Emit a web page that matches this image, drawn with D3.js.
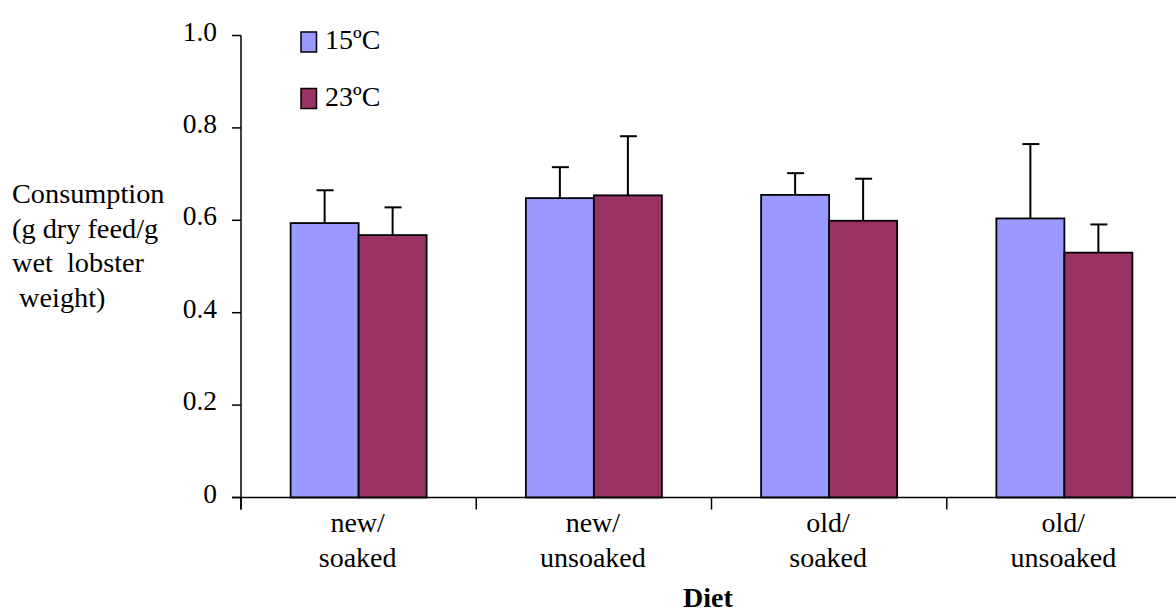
<!DOCTYPE html>
<html>
<head>
<meta charset="utf-8">
<script src="https://cdn.jsdelivr.net/npm/d3@7"></script>
<style>
  html, body { margin: 0; padding: 0; background: #fff; }
  svg { display: block; }
  svg text { font-family: "Liberation Serif", "Times New Roman", serif; }
</style>
</head>
<body>
<svg id="chart" width="1176" height="615"></svg>
<script>
// Diet groups (two-line category labels)
const categories = ["new/\nsoaked", "new/\nunsoaked", "old/\nsoaked", "old/\nunsoaked"];
const seriesNames = ["15ºC", "23ºC"];
const seriesColors = ["#9999FF", "#993366"];

// Mean consumption and upper error bar end for each temperature
const mean15 = [0.594, 0.648, 0.655, 0.604];
const mean23 = [0.568, 0.654, 0.599, 0.530];
const errTop15 = [0.665, 0.715, 0.702, 0.765];
const errTop23 = [0.628, 0.782, 0.690, 0.591];

const yTicks = [0, 0.2, 0.4, 0.6, 0.8, 1.0];
const yTickLabels = ["0", "0.2", "0.4", "0.6", "0.8", "1.0"];
const yTitleLines = ["Consumption", "(g dry feed/g", "wet  lobster", " weight)"];
const xTitle = "Diet";

const series = [
  { name: seriesNames[0], color: seriesColors[0], values: mean15, tops: errTop15 },
  { name: seriesNames[1], color: seriesColors[1], values: mean23, tops: errTop23 }
];

const svg = d3.select("#chart");
const plot = { left: 241, right: 1182, top: 35.5, bottom: 497.5 };

const x = d3.scaleBand()
  .domain(d3.range(categories.length))
  .range([plot.left, plot.right])
  .paddingInner(0).paddingOuter(0);

const barW = 68;
const xs = d3.scaleBand()
  .domain(d3.range(series.length))
  .range([0, barW * 2]);

const y = d3.scaleLinear().domain([0, 1]).range([plot.bottom, plot.top]);

// Bars
series.forEach((s, si) => {
  const g = svg.append("g");
  g.selectAll("rect")
    .data(s.values)
    .join("rect")
    .attr("x", (d, i) => x(i) + (x.bandwidth() - barW * 2) / 2 + xs(si))
    .attr("y", d => y(d))
    .attr("width", xs.bandwidth())
    .attr("height", d => y(0) - y(d))
    .attr("fill", s.color)
    .attr("stroke", "#000")
    .attr("stroke-width", 1.8);

  // Upper error bars
  const cx = i => x(i) + (x.bandwidth() - barW * 2) / 2 + xs(si) + xs.bandwidth() / 2;
  g.selectAll("line.err")
    .data(s.tops)
    .join("line")
    .attr("class", "err")
    .attr("x1", (d, i) => cx(i)).attr("x2", (d, i) => cx(i))
    .attr("y1", (d, i) => y(s.values[i])).attr("y2", d => y(d))
    .attr("stroke", "#000").attr("stroke-width", 2);
  g.selectAll("line.cap")
    .data(s.tops)
    .join("line")
    .attr("class", "cap")
    .attr("x1", (d, i) => cx(i) - 8).attr("x2", (d, i) => cx(i) + 9)
    .attr("y1", d => y(d)).attr("y2", d => y(d))
    .attr("stroke", "#000").attr("stroke-width", 2);
});

// Y axis
const yAxis = svg.append("g");
yAxis.append("line")
  .attr("x1", plot.left).attr("x2", plot.left)
  .attr("y1", y(1)).attr("y2", y(0) + 12)
  .attr("stroke", "#000").attr("stroke-width", 1.5);
yAxis.selectAll("line.tick")
  .data(yTicks)
  .join("line")
  .attr("class", "tick")
  .attr("x1", plot.left - 9).attr("x2", plot.left)
  .attr("y1", d => y(d)).attr("y2", d => y(d))
  .attr("stroke", "#000").attr("stroke-width", 1.5);
yAxis.selectAll("text")
  .data(yTicks)
  .join("text")
  .attr("x", 217)
  .attr("y", d => Math.max(y(d) + 5, 35))
  .attr("text-anchor", "end")
  .attr("font-size", 27.5)
  .text((d, i) => yTickLabels[i]);

// X axis
const xAxis = svg.append("g");
xAxis.append("line")
  .attr("x1", plot.left - 9).attr("x2", 1176)
  .attr("y1", y(0)).attr("y2", y(0))
  .attr("stroke", "#000").attr("stroke-width", 1.5);
xAxis.selectAll("line.tick")
  .data(d3.range(categories.length))
  .join("line")
  .attr("class", "tick")
  .attr("x1", i => x(i)).attr("x2", i => x(i))
  .attr("y1", y(0)).attr("y2", y(0) + 12)
  .attr("stroke", "#000").attr("stroke-width", 1.5);
xAxis.selectAll("text")
  .data(categories)
  .join("text")
  .attr("text-anchor", "middle")
  .attr("font-size", 28)
  .each(function (d, i) {
    const t = d3.select(this);
    d.split("\n").forEach((line, li) => {
      t.append("tspan")
        .attr("x", x(i) + x.bandwidth() / 2 - 1)
        .attr("y", 532 + li * 35)
        .text(line);
    });
  });

// Axis titles
svg.append("text")
  .attr("x", 708).attr("y", 607)
  .attr("text-anchor", "middle")
  .attr("font-size", 28)
  .attr("font-weight", "bold")
  .text(xTitle);

svg.append("g").selectAll("text")
  .data(yTitleLines)
  .join("text")
  .attr("x", 12)
  .attr("y", (d, i) => 203 + i * 34.5)
  .attr("font-size", 28.3)
  .style("white-space", "pre")
  .attr("xml:space", "preserve")
  .text(d => d);

// Legend
const legend = svg.append("g");
series.forEach((s, si) => {
  const ly = 32 + si * 56.5;
  legend.append("rect")
    .attr("x", 301).attr("y", ly)
    .attr("width", 15.5).attr("height", 20)
    .attr("fill", s.color)
    .attr("stroke", "#000").attr("stroke-width", 1.5);
  legend.append("text")
    .attr("x", 325).attr("y", ly + 17)
    .attr("font-size", 28)
    .text(s.name);
});
</script>
</body>
</html>
